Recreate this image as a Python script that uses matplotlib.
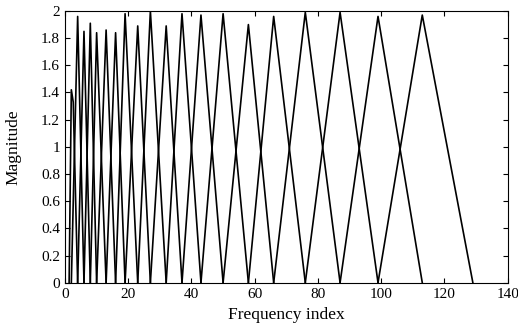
import matplotlib
matplotlib.use("Agg")
import matplotlib.pyplot as plt
import numpy as np

# Filter edge/center positions (frequency index) and peak magnitudes
edges = [1.3, 2, 4, 6, 8, 10, 13, 16, 19, 23, 27, 32, 37, 43, 50, 58, 66, 76, 87, 99, 113, 129]
peaks = [1.42, 1.96, 1.85, 1.91, 1.84, 1.86, 1.84, 1.98, 1.89, 2.0,
         1.89, 1.98, 1.97, 1.98, 1.90, 1.96, 1.99, 1.99, 1.96, 1.97]
# first filter has a small shoulder just after its peak
first_shoulder_x = 2.6
first_shoulder_y = 1.33

plt.rcParams['font.family'] = ['Liberation Serif', 'DejaVu Serif']

fig = plt.figure(figsize=(5.18, 3.27), dpi=100)
ax = fig.add_axes([0.1255, 0.1355, 0.8545, 0.8309])

for i, pk in enumerate(peaks):
    if i == 0:
        xs = [edges[0], edges[1], first_shoulder_x, edges[2]]
        ys = [0, pk, first_shoulder_y, 0]
    else:
        xs = [edges[i], edges[i + 1], edges[i + 2]]
        ys = [0, pk, 0]
    ax.plot(xs, ys, color='black', lw=1.2)

ax.set_xlim(0, 140)
ax.set_ylim(0, 2)
ax.set_xticks(np.arange(0, 141, 20))
ax.set_yticks(np.arange(0, 2.01, 0.2))
ax.set_yticklabels(['0', '0.2', '0.4', '0.6', '0.8', '1', '1.2', '1.4', '1.6', '1.8', '2'])
ax.tick_params(direction='in', top=True, right=True, length=3.5, width=0.8, labelsize=11)
ax.tick_params(axis='x', pad=4)
for s in ax.spines.values():
    s.set_linewidth(0.8)
ax.set_xlabel('Frequency index', fontsize=12.5, labelpad=4)
ax.set_ylabel('Magnitude', fontsize=12.5, labelpad=14)

fig.savefig('out.png', dpi=100)
